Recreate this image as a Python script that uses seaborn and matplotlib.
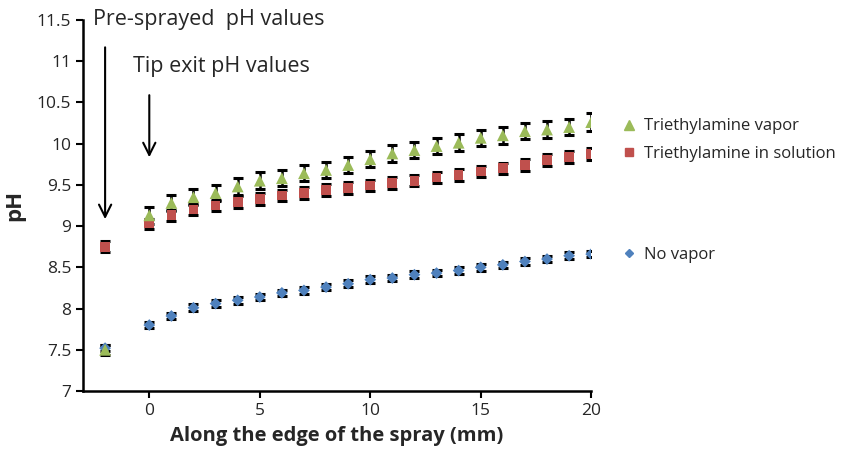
import numpy as np
import matplotlib
matplotlib.use("Agg")
import matplotlib.pyplot as plt
import seaborn as sns
import pandas as pd
from matplotlib.lines import Line2D

# distance along spray edge (mm); -2 = pre-sprayed value
x_pos = [-2] + list(range(0, 21))

vapor = [7.50, 9.13, 9.28, 9.35, 9.40, 9.48, 9.55, 9.58, 9.64, 9.68, 9.74,
         9.81, 9.88, 9.92, 9.97, 10.01, 10.07, 10.10, 10.15, 10.17, 10.20, 10.26]
vapor_err = [0.06, 0.10, 0.10, 0.10, 0.10, 0.10, 0.10, 0.10, 0.10, 0.10, 0.10,
             0.10, 0.10, 0.10, 0.10, 0.10, 0.10, 0.10, 0.10, 0.10, 0.10, 0.11]

solution = [8.75, 9.03, 9.13, 9.20, 9.25, 9.29, 9.33, 9.37, 9.40, 9.44, 9.46,
            9.49, 9.52, 9.55, 9.59, 9.62, 9.66, 9.70, 9.74, 9.80, 9.84, 9.87]
solution_err = [0.07, 0.06, 0.07, 0.07, 0.07, 0.07, 0.07, 0.07, 0.07, 0.07, 0.07,
                0.07, 0.07, 0.07, 0.07, 0.07, 0.07, 0.07, 0.07, 0.07, 0.07, 0.07]

no_vapor = [7.52, 7.80, 7.91, 8.01, 8.06, 8.10, 8.14, 8.19, 8.22, 8.26, 8.30,
            8.35, 8.37, 8.41, 8.43, 8.46, 8.50, 8.53, 8.57, 8.60, 8.64, 8.66]
no_vapor_err = [0.04] * 22

series = {
    "No vapor": (no_vapor, no_vapor_err, "D", "#4F81BD", 6),
    "Triethylamine in solution": (solution, solution_err, "s", "#C0504D", 7),
    "Triethylamine vapor": (vapor, vapor_err, "^", "#9BBB59", 8.5),
}

sns.set_style("white")
plt.rcParams["font.family"] = ["Open Sans", "DejaVu Sans"]

fig = plt.figure(figsize=(8.47, 4.5), dpi=100)
ax = fig.add_axes([0.098, 0.131, 0.600, 0.825])

for name, (vals, errs, mk, col, ms) in series.items():
    df = pd.DataFrame({"x": x_pos, "y": vals})
    ax.errorbar(x_pos, vals, yerr=errs, fmt="none", ecolor="black",
                elinewidth=1.8, capsize=3.5, capthick=2.2, zorder=2)
    sns.scatterplot(data=df, x="x", y="y", marker=mk, color=col, s=ms ** 2,
                    edgecolor="none", ax=ax, zorder=3)

ax.set_xlim(-3, 20)
ax.set_ylim(7, 11.5)
ax.set_xticks([0, 5, 10, 15, 20])
ax.set_yticks(np.arange(7, 11.51, 0.5))
ax.set_yticklabels(["7", "7.5", "8", "8.5", "9", "9.5", "10", "10.5", "11", "11.5"])
ax.tick_params(axis="both", labelsize=12.5, length=5, width=1.5, direction="out",
               left=True, bottom=True, color="black")
for s in ["top", "right"]:
    ax.spines[s].set_visible(False)
for s in ["left", "bottom"]:
    ax.spines[s].set_color("black")
    ax.spines[s].set_linewidth(1.8)

ax.set_xlabel("Along the edge of the spray (mm)", fontsize=14.5, fontweight="bold",
              labelpad=5)
ax.set_ylabel("pH", fontsize=16, fontweight="bold", labelpad=8)

ax.annotate("", xy=(-2, 9.05), xytext=(-2, 11.2),
            arrowprops=dict(arrowstyle="->", color="black", lw=1.5,
                            mutation_scale=22))
ax.text(-2.55, 11.5, "Pre-sprayed  pH values", fontsize=15.5, va="center", ha="left")
ax.annotate("", xy=(0, 9.8), xytext=(0, 10.62),
            arrowprops=dict(arrowstyle="->", color="black", lw=1.5,
                            mutation_scale=22))
ax.text(-0.75, 10.93, "Tip exit pH values", fontsize=15.5, va="center", ha="left")

def handle(name):
    _, _, mk, col, ms = series[name]
    return Line2D([], [], marker=mk, color=col, linestyle="none", markersize=ms - 1.5)

fig.legend(handles=[handle("Triethylamine vapor"), handle("Triethylamine in solution")],
           labels=["Triethylamine vapor", "Triethylamine in solution"],
           loc="upper left", bbox_to_anchor=(0.713, 0.77), frameon=False,
           fontsize=12, handletextpad=0.3, handlelength=1.2, labelspacing=0.7)
fig.legend(handles=[handle("No vapor")], labels=["No vapor"],
           loc="upper left", bbox_to_anchor=(0.713, 0.485), frameon=False,
           fontsize=12, handletextpad=0.3, handlelength=1.2)

fig.savefig("out.png", dpi=100)
